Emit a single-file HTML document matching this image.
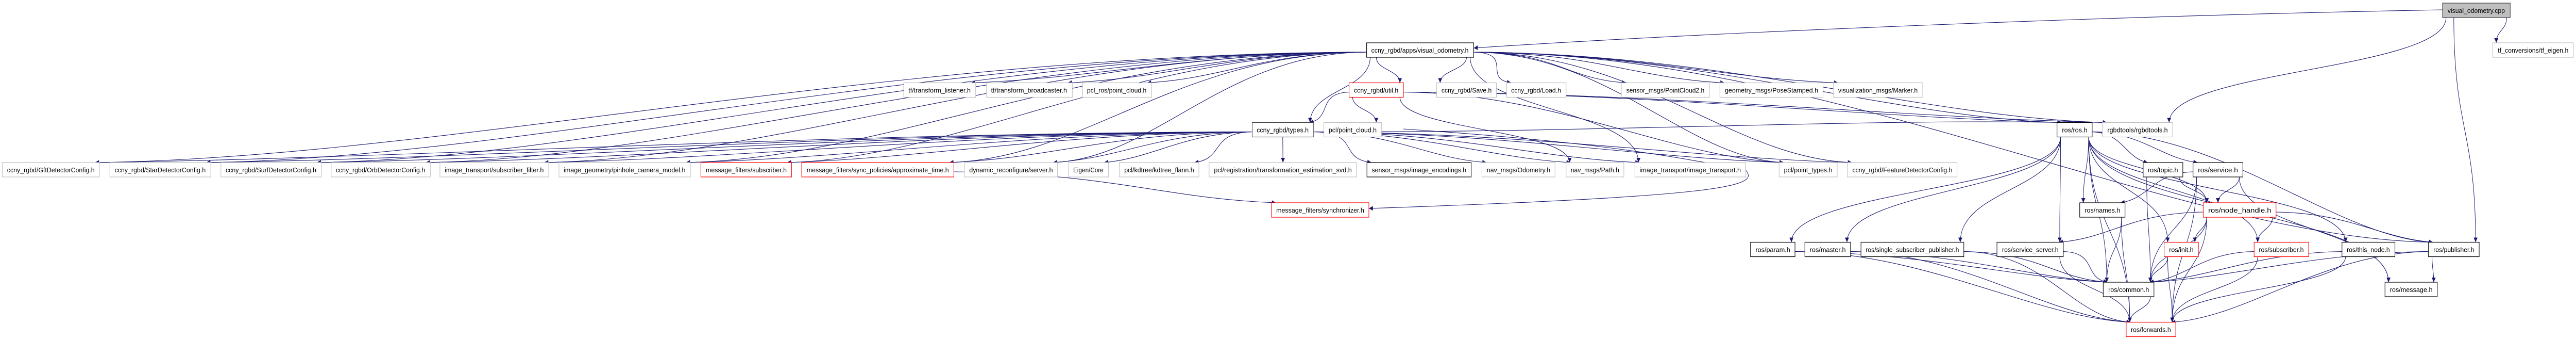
<!DOCTYPE html>
<html><head><meta charset="utf-8"><style>
html,body{margin:0;padding:0;background:#fff;overflow:hidden;width:100%;height:100%;}
svg{display:block;position:fixed;left:0;top:0;width:100vw;height:100vh;}
text{font-family:"Liberation Sans",sans-serif;font-size:12.5px;fill:#000;}
</style></head><body>
<svg id="g" viewBox="0 0 5799 659" preserveAspectRatio="none" xmlns="http://www.w3.org/2000/svg">
<defs><marker id="a" viewBox="0 0 10 10" refX="10" refY="5" markerWidth="12" markerHeight="9" markerUnits="userSpaceOnUse" orient="auto"><path d="M0,0 L10,5 L0,10 z" fill="#191970"/></marker></defs>
<g id="edges" fill="none" stroke="#191970" stroke-width="1.1"></g>
<g id="nodes">
<rect x="5498.5" y="6" width="152.4" height="28" fill="#bfbfbf" stroke="#404040" stroke-width="1.2"/><text x="5510" y="25" textLength="129" lengthAdjust="spacingAndGlyphs">visual_odometry.cpp</text>
<rect x="5611.6" y="83" width="181.4" height="28" fill="#fff" stroke="#bfbfbf" stroke-width="1.2"/><text x="5623" y="102" textLength="159" lengthAdjust="spacingAndGlyphs">tf_conversions/tf_eigen.h</text>
<rect x="3076.5" y="83" width="241.1" height="28" fill="#fff" stroke="#000" stroke-width="1.2"/><text x="3087" y="102" textLength="219" lengthAdjust="spacingAndGlyphs">ccny_rgbd/apps/visual_odometry.h</text>
<rect x="2034.4" y="160.5" width="162" height="28" fill="#fff" stroke="#bfbfbf" stroke-width="1.2"/><text x="2045" y="179.5" textLength="140" lengthAdjust="spacingAndGlyphs">tf/transform_listener.h</text>
<rect x="2220.7" y="160.5" width="193.2" height="28" fill="#fff" stroke="#bfbfbf" stroke-width="1.2"/><text x="2231" y="179.5" textLength="171" lengthAdjust="spacingAndGlyphs">tf/transform_broadcaster.h</text>
<rect x="2436.9" y="160.5" width="155.6" height="28" fill="#fff" stroke="#bfbfbf" stroke-width="1.2"/><text x="2447" y="179.5" textLength="134" lengthAdjust="spacingAndGlyphs">pcl_ros/point_cloud.h</text>
<rect x="3037" y="160.5" width="122.4" height="28" fill="#fff" stroke="#ff0000" stroke-width="1.2"/><text x="3048" y="179.5" textLength="100" lengthAdjust="spacingAndGlyphs">ccny_rgbd/util.h</text>
<rect x="3234" y="160.5" width="134.6" height="28" fill="#fff" stroke="#bfbfbf" stroke-width="1.2"/><text x="3245" y="179.5" textLength="113" lengthAdjust="spacingAndGlyphs">ccny_rgbd/Save.h</text>
<rect x="3391.6" y="160.5" width="133.9" height="28" fill="#fff" stroke="#bfbfbf" stroke-width="1.2"/><text x="3402" y="179.5" textLength="112" lengthAdjust="spacingAndGlyphs">ccny_rgbd/Load.h</text>
<rect x="3649.9" y="160.5" width="198.3" height="28" fill="#fff" stroke="#bfbfbf" stroke-width="1.2"/><text x="3661" y="179.5" textLength="176" lengthAdjust="spacingAndGlyphs">sensor_msgs/PointCloud2.h</text>
<rect x="3871.8" y="160.5" width="232.2" height="28" fill="#fff" stroke="#bfbfbf" stroke-width="1.2"/><text x="3883" y="179.5" textLength="210" lengthAdjust="spacingAndGlyphs">geometry_msgs/PoseStamped.h</text>
<rect x="4127.6" y="160.5" width="200.8" height="28" fill="#fff" stroke="#bfbfbf" stroke-width="1.2"/><text x="4138" y="179.5" textLength="179" lengthAdjust="spacingAndGlyphs">visualization_msgs/Marker.h</text>
<rect x="2818.9" y="237.5" width="138.4" height="28" fill="#fff" stroke="#404040" stroke-width="1.2"/><text x="2829" y="256.5" textLength="117" lengthAdjust="spacingAndGlyphs">ccny_rgbd/types.h</text>
<rect x="2980.2" y="237.5" width="129.5" height="28" fill="#fff" stroke="#bfbfbf" stroke-width="1.2"/><text x="2991" y="256.5" textLength="108" lengthAdjust="spacingAndGlyphs">pcl/point_cloud.h</text>
<rect x="4630.7" y="237.5" width="79.1" height="28" fill="#fff" stroke="#000" stroke-width="1.2"/><text x="4642" y="256.5" textLength="57" lengthAdjust="spacingAndGlyphs">ros/ros.h</text>
<rect x="4732.8" y="237.5" width="158.2" height="28" fill="#fff" stroke="#bfbfbf" stroke-width="1.2"/><text x="4744" y="256.5" textLength="136" lengthAdjust="spacingAndGlyphs">rgbdtools/rgbdtools.h</text>
<rect x="5.1" y="315" width="218.8" height="28" fill="#fff" stroke="#bfbfbf" stroke-width="1.2"/><text x="16" y="334" textLength="197" lengthAdjust="spacingAndGlyphs">ccny_rgbd/GftDetectorConfig.h</text>
<rect x="247.4" y="315" width="227.1" height="28" fill="#fff" stroke="#bfbfbf" stroke-width="1.2"/><text x="258" y="334" textLength="205" lengthAdjust="spacingAndGlyphs">ccny_rgbd/StarDetectorConfig.h</text>
<rect x="497.4" y="315" width="225.8" height="28" fill="#fff" stroke="#bfbfbf" stroke-width="1.2"/><text x="508" y="334" textLength="204" lengthAdjust="spacingAndGlyphs">ccny_rgbd/SurfDetectorConfig.h</text>
<rect x="745.5" y="315" width="223.2" height="28" fill="#fff" stroke="#bfbfbf" stroke-width="1.2"/><text x="756" y="334" textLength="201" lengthAdjust="spacingAndGlyphs">ccny_rgbd/OrbDetectorConfig.h</text>
<rect x="990.4" y="315" width="244.9" height="28" fill="#fff" stroke="#bfbfbf" stroke-width="1.2"/><text x="1001" y="334" textLength="223" lengthAdjust="spacingAndGlyphs">image_transport/subscriber_filter.h</text>
<rect x="1258.3" y="315" width="295.9" height="28" fill="#fff" stroke="#bfbfbf" stroke-width="1.2"/><text x="1269" y="334" textLength="274" lengthAdjust="spacingAndGlyphs">image_geometry/pinhole_camera_model.h</text>
<rect x="1577.8" y="315" width="204.1" height="28" fill="#fff" stroke="#ff0000" stroke-width="1.2"/><text x="1589" y="334" textLength="182" lengthAdjust="spacingAndGlyphs">message_filters/subscriber.h</text>
<rect x="1804.8" y="315" width="342.5" height="28" fill="#fff" stroke="#ff0000" stroke-width="1.2"/><text x="1816" y="334" textLength="320" lengthAdjust="spacingAndGlyphs">message_filters/sync_policies/approximate_time.h</text>
<rect x="2170.9" y="315" width="209.8" height="28" fill="#fff" stroke="#bfbfbf" stroke-width="1.2"/><text x="2182" y="334" textLength="188" lengthAdjust="spacingAndGlyphs">dynamic_reconfigure/server.h</text>
<rect x="2405.6" y="315" width="89.9" height="28" fill="#fff" stroke="#bfbfbf" stroke-width="1.2"/><text x="2416" y="334" textLength="68" lengthAdjust="spacingAndGlyphs">Eigen/Core</text>
<rect x="2519.8" y="315" width="179.2" height="28" fill="#fff" stroke="#bfbfbf" stroke-width="1.2"/><text x="2531" y="334" textLength="157" lengthAdjust="spacingAndGlyphs">pcl/kdtree/kdtree_flann.h</text>
<rect x="2721.9" y="315" width="331.7" height="28" fill="#fff" stroke="#bfbfbf" stroke-width="1.2"/><text x="2733" y="334" textLength="310" lengthAdjust="spacingAndGlyphs">pcl/registration/transformation_estimation_svd.h</text>
<rect x="3077.2" y="315" width="234.7" height="28" fill="#fff" stroke="#000" stroke-width="1.2"/><text x="3088" y="334" textLength="213" lengthAdjust="spacingAndGlyphs">sensor_msgs/image_encodings.h</text>
<rect x="3336.1" y="315" width="164.5" height="28" fill="#fff" stroke="#bfbfbf" stroke-width="1.2"/><text x="3347" y="334" textLength="143" lengthAdjust="spacingAndGlyphs">nav_msgs/Odometry.h</text>
<rect x="3525.5" y="315" width="130.1" height="28" fill="#fff" stroke="#bfbfbf" stroke-width="1.2"/><text x="3536" y="334" textLength="109" lengthAdjust="spacingAndGlyphs">nav_msgs/Path.h</text>
<rect x="3680.5" y="315" width="249.3" height="28" fill="#fff" stroke="#bfbfbf" stroke-width="1.2"/><text x="3691" y="334" textLength="228" lengthAdjust="spacingAndGlyphs">image_transport/image_transport.h</text>
<rect x="4005.1" y="315" width="130.7" height="28" fill="#fff" stroke="#bfbfbf" stroke-width="1.2"/><text x="4016" y="334" textLength="109" lengthAdjust="spacingAndGlyphs">pcl/point_types.h</text>
<rect x="4158.8" y="315" width="246.8" height="28" fill="#fff" stroke="#bfbfbf" stroke-width="1.2"/><text x="4170" y="334" textLength="225" lengthAdjust="spacingAndGlyphs">ccny_rgbd/FeatureDetectorConfig.h</text>
<rect x="4824.6" y="315" width="89.3" height="28" fill="#fff" stroke="#000" stroke-width="1.2"/><text x="4835" y="334" textLength="68" lengthAdjust="spacingAndGlyphs">ros/topic.h</text>
<rect x="4936.9" y="315" width="112.2" height="28" fill="#fff" stroke="#000" stroke-width="1.2"/><text x="4948" y="334" textLength="90" lengthAdjust="spacingAndGlyphs">ros/service.h</text>
<rect x="2862.2" y="393" width="219.4" height="28" fill="#fff" stroke="#ff0000" stroke-width="1.2"/><text x="2873" y="412" textLength="198" lengthAdjust="spacingAndGlyphs">message_filters/synchronizer.h</text>
<rect x="4681.8" y="393" width="102" height="28" fill="#fff" stroke="#000" stroke-width="1.2"/><text x="4693" y="412" textLength="80" lengthAdjust="spacingAndGlyphs">ros/names.h</text>
<rect x="4959.8" y="393" width="163.9" height="28" fill="#fff" stroke="#ff0000" stroke-width="1.2"/><text x="4971" y="412" textLength="142" lengthAdjust="spacingAndGlyphs">ros/node_handle.h</text>
<rect x="3940.7" y="469.5" width="100.1" height="28" fill="#fff" stroke="#000" stroke-width="1.2"/><text x="3952" y="488.5" textLength="78" lengthAdjust="spacingAndGlyphs">ros/param.h</text>
<rect x="4063.1" y="469.5" width="102.7" height="28" fill="#fff" stroke="#000" stroke-width="1.2"/><text x="4074" y="488.5" textLength="81" lengthAdjust="spacingAndGlyphs">ros/master.h</text>
<rect x="4189.4" y="469.5" width="231.5" height="28" fill="#fff" stroke="#000" stroke-width="1.2"/><text x="4200" y="488.5" textLength="210" lengthAdjust="spacingAndGlyphs">ros/single_subscriber_publisher.h</text>
<rect x="4495.5" y="469.5" width="149.3" height="28" fill="#fff" stroke="#000" stroke-width="1.2"/><text x="4507" y="488.5" textLength="127" lengthAdjust="spacingAndGlyphs">ros/service_server.h</text>
<rect x="4871.8" y="469.5" width="77.2" height="28" fill="#fff" stroke="#ff0000" stroke-width="1.2"/><text x="4883" y="488.5" textLength="55" lengthAdjust="spacingAndGlyphs">ros/init.h</text>
<rect x="5074.4" y="469.5" width="122.8" height="28" fill="#fff" stroke="#ff0000" stroke-width="1.2"/><text x="5085" y="488.5" textLength="101" lengthAdjust="spacingAndGlyphs">ros/subscriber.h</text>
<rect x="5272.2" y="469.5" width="119.2" height="28" fill="#fff" stroke="#000" stroke-width="1.2"/><text x="5283" y="488.5" textLength="97" lengthAdjust="spacingAndGlyphs">ros/this_node.h</text>
<rect x="5466.9" y="469.5" width="114.1" height="28" fill="#fff" stroke="#000" stroke-width="1.2"/><text x="5478" y="488.5" textLength="92" lengthAdjust="spacingAndGlyphs">ros/publisher.h</text>
<rect x="4734.7" y="547" width="114.2" height="28" fill="#fff" stroke="#000" stroke-width="1.2"/><text x="4746" y="566" textLength="92" lengthAdjust="spacingAndGlyphs">ros/common.h</text>
<rect x="5369" y="547" width="117.7" height="28" fill="#fff" stroke="#000" stroke-width="1.2"/><text x="5380" y="566" textLength="96" lengthAdjust="spacingAndGlyphs">ros/message.h</text>
<rect x="4786.4" y="624.5" width="111.6" height="28" fill="#fff" stroke="#ff0000" stroke-width="1.2"/><text x="4797" y="643.5" textLength="90" lengthAdjust="spacingAndGlyphs">ros/forwards.h</text>
</g>
</svg>
<script>
var N={
cpp:[5498.5,5650.9,6],tfe:[5611.6,5793,83],vo:[3076.5,3317.6,83],
tfl:[2034.4,2196.4,160.5],tfb:[2220.7,2413.9,160.5],pclros:[2436.9,2592.5,160.5],util:[3037,3159.4,160.5],save:[3234,3368.6,160.5],load:[3391.6,3525.5,160.5],pc2:[3649.9,3848.2,160.5],pose:[3871.8,4104,160.5],marker:[4127.6,4328.4,160.5],
types:[2818.9,2957.3,237.5],pclpc:[2980.2,3109.7,237.5],ros:[4630.7,4709.8,237.5],rgbd:[4732.8,4891,237.5],
gft:[5.1,223.9,315],star:[247.4,474.5,315],surf:[497.4,723.2,315],orb:[745.5,968.7,315],subf:[990.4,1235.3,315],pin:[1258.3,1554.2,315],msub:[1577.8,1781.9,315],approx:[1804.8,2147.3,315],dyn:[2170.9,2380.7,315],eig:[2405.6,2495.5,315],kd:[2519.8,2699,315],svd:[2721.9,3053.6,315],enc:[3077.2,3311.9,315],odom:[3336.1,3500.6,315],path:[3525.5,3655.6,315],itr:[3680.5,3929.8,315],pt:[4005.1,4135.8,315],feat:[4158.8,4405.6,315],topic:[4824.6,4913.9,315],service:[4936.9,5049.1,315],
sync:[2862.2,3081.6,393],names:[4681.8,4783.8,393],nh:[4959.8,5123.7,393],
param:[3940.7,4040.8,469.5],master:[4063.1,4165.8,469.5],ssp:[4189.4,4420.9,469.5],ss:[4495.5,4644.8,469.5],init:[4871.8,4949,469.5],sub:[5074.4,5197.2,469.5],tn:[5272.2,5391.4,469.5],pub:[5466.9,5581,469.5],
common:[4734.7,4848.9,547],msg:[5369,5486.7,547],fwd:[4786.4,4898,624.5]};
var E=[["cpp","tfe"],["cpp","rgbd"],["cpp","pub"],
["vo","gft"],["vo","star"],["vo","surf"],["vo","orb"],["vo","subf"],["vo","pin"],["vo","msub"],["vo","approx"],["vo","dyn"],["vo","tfl"],["vo","tfb"],["vo","pclros"],["vo","util"],["vo","save"],["vo","load"],["vo","pc2"],["vo","pose"],["vo","marker"],["vo","types"],["vo","rgbd"],["vo","ros"],["vo","itr"],["vo","pub"],["vo","pt"],["vo","feat"],
["types","gft"],["types","star"],["types","surf"],["types","orb"],["types","subf"],["types","pin"],["types","msub"],["types","approx"],["types","dyn"],["types","eig"],["types","kd"],["types","svd"],["types","enc"],["types","odom"],["types","path"],["types","itr"],["types","pt"],["types","feat"],["types","ros"],
["util","types"],["util","pclpc"],["util","path"],["util","rgbd"],["util","ros"],["util","pt"],["approx","sync"],
["ros","param"],["ros","master"],["ros","ssp"],["ros","ss"],["ros","names"],["ros","common"],["ros","init"],["ros","topic"],["ros","service"],["ros","nh"],["ros","sub"],["ros","tn"],["ros","pub"],["ros","msg"],["ros","fwd"],
["topic","common"],["topic","nh"],["service","names"],["service","common"],["service","nh"],["service","fwd"],["service","msg"],
["nh","ss"],["nh","init"],["nh","common"],["nh","fwd"],["nh","sub"],["nh","pub"],
["names","common"],["names","fwd"],["init","common"],["init","fwd"],["param","common"],["param","fwd"],["master","common"],["master","fwd"],["ssp","common"],["ssp","fwd"],["ss","common"],["ss","fwd"],["sub","common"],["sub","fwd"],["tn","common"],["tn","fwd"],["pub","common"],["pub","fwd"],["pub","msg"],["common","fwd"]];
function cl(v,a,b){return Math.max(a,Math.min(b,v));}
var g=document.getElementById("edges"),h="";
E.forEach(function(e){var s=N[e[0]],t=N[e[1]];var scx=(s[0]+s[1])/2,tcx=(t[0]+t[1])/2;var sy=s[2]+28,ty=t[2];var dx=tcx-scx,dy=ty-sy;var d;
if(Math.abs(dx)>4*Math.max(dy,20)){var x0=dx<0?s[0]:s[1],y0=s[2]+18;var ex=dx<0?t[1]-10:t[0]+10,ey=ty;
d="M"+x0+","+y0+" C"+(x0+dx*0.35)+","+(y0+2)+" "+(ex-dx*0.25)+","+(ey-8)+" "+ex+","+ey;}
else{var x0=cl(tcx,s[0]+8,s[1]-8),ex=cl(scx,t[0]+8,t[1]-8);var m=(sy+ty)/2;d="M"+x0+","+sy+" C"+x0+","+m+" "+ex+","+m+" "+ex+","+ty;}
h+='<path d="'+d+'" marker-end="url(#a)"/>';});
h+='<path d="M5498.5,19 C4800,30 3900,60 3317.6,93" marker-end="url(#a)"/>';
h+='<path d="M3159.4,250 C3500,270 3700,290 3930,330 C3960,360 3900,380 3081.6,404" marker-end="url(#a)"/>';
g.innerHTML=h;
</script>
</body></html>
